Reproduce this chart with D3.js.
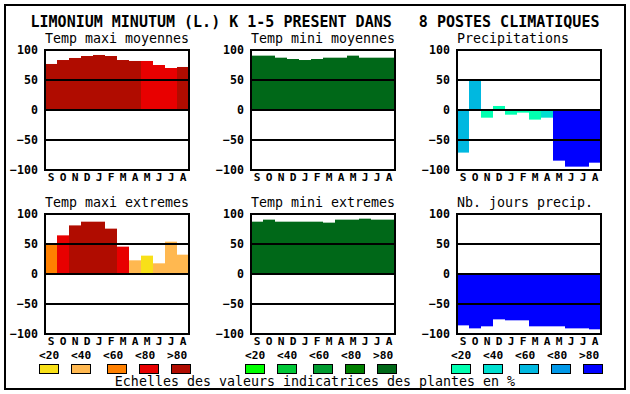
<!DOCTYPE html>
<html>
<head>
<meta charset="utf-8">
<script src="https://cdn.jsdelivr.net/npm/d3@7"></script>
<style>
  body { margin: 0; background: #fff; }
  svg { display: block; font-family: "DejaVu Sans Mono", monospace; }
  text { white-space: pre; }
</style>
</head>
<body>
<svg id="chart" width="630" height="394"></svg>
<script>
// Data
const months = ['S', 'O', 'N', 'D', 'J', 'F', 'M', 'A', 'M', 'J', 'J', 'A'];
const yTicks = [100, 50, 0, -50, -100];
const classLabels = ['<20', '<40', '<60', '<80', '>80'];

const redScale = ['#f8e018', '#ffb850', '#ff8000', '#e80000', '#b00c00'];
const greenScale = ['#00ff00', '#00c838', '#009c30', '#008000', '#006818'];
const blueScale = ['#00ffb0', '#00e0d0', '#00b8e0', '#0098e8', '#0000ff'];

const titles = ['Temp maxi moyennes', 'Temp mini moyennes', 'Precipitations',
                'Temp maxi extremes', 'Temp mini extremes', 'Nb. jours precip.'];

const tmaxMoy = [76.7, 83.3, 86.7, 90, 91.7, 90, 83.3, 81.7, 81.7, 75, 70, 71.7];
const tmaxMoyClass = [4, 4, 4, 4, 4, 4, 4, 4, 3, 3, 3, 4];

const tminMoy = [90.6, 90.6, 87.2, 85, 83.3, 85, 87.2, 87.2, 90.6, 87.2, 87.2, 87.2];
const tminMoyClass = [4, 4, 4, 4, 4, 4, 4, 4, 4, 4, 4, 4];

const precip = [-71, 48.9, -12.8, 6.7, -7.8, -4.4, -16, -12.8, -84.4, -94.4, -94.4, -87.8];
const precipClass = [2, 2, 0, 0, 0, 0, 0, 1, 4, 4, 4, 4];

const tmaxExt = [50, 64.4, 81, 87.2, 87.2, 75.6, 45.6, 22.8, 30.6, 17.8, 53.9, 32.2];
const tmaxExtClass = [2, 3, 4, 4, 4, 4, 3, 1, 0, 1, 1, 1];

const tminExt = [87.2, 90.6, 87.2, 87.2, 87.2, 87.2, 85.6, 90.6, 90.6, 92.2, 90.6, 90.6];
const tminExtClass = [4, 4, 4, 4, 4, 4, 4, 4, 4, 4, 4, 4];

const nbJours = [-85.6, -90.6, -87.2, -75.6, -77.2, -77.2, -87.2, -87.2, -87.2, -90.6, -90.6, -92.2];
const nbJoursClass = [4, 4, 4, 4, 4, 4, 4, 4, 4, 4, 4, 4];

(function() {
  const svg = d3.select('#chart');
  const colX = [45, 251, 457];
  const rowY = [50, 214];
  const plotW = 144, plotH = 120;
  const tickFont = 11.2;

  // outer frame
  svg.append('rect').attr('x', 5).attr('y', 5).attr('width', 620).attr('height', 384)
    .attr('fill', 'none').attr('stroke', '#000').attr('stroke-width', 2);

  svg.append('text').attr('x', 315).attr('y', 27).attr('text-anchor', 'middle')
    .attr('font-size', 15).attr('font-weight', 'bold')
    .text('LIMONIUM MINUTUM (L.) K 1-5 PRESENT DANS   8 POSTES CLIMATIQUES');

  const panels = [
    { values: tmaxMoy, classes: tmaxMoyClass, scale: redScale },
    { values: tminMoy, classes: tminMoyClass, scale: greenScale },
    { values: precip, classes: precipClass, scale: blueScale },
    { values: tmaxExt, classes: tmaxExtClass, scale: redScale },
    { values: tminExt, classes: tminExtClass, scale: greenScale },
    { values: nbJours, classes: nbJoursClass, scale: blueScale }
  ];

  panels.forEach(function(p, i) {
    const px = colX[i % 3], py = rowY[Math.floor(i / 3)];
    const g = svg.append('g').attr('transform', `translate(${px},${py})`);
    const x = d3.scaleBand().domain(d3.range(12)).range([0, plotW]).padding(0);
    const y = d3.scaleLinear().domain([-100, 100]).range([plotH, 0]);

    g.append('text').attr('x', 0).attr('y', -7).attr('font-size', 13.3).text(titles[i]);

    g.selectAll('rect.bar').data(p.values).enter().append('rect')
      .attr('class', 'bar')
      .attr('x', (d, j) => x(j))
      .attr('width', x.bandwidth())
      .attr('y', d => y(Math.max(0, d)))
      .attr('height', d => Math.abs(y(d) - y(0)))
      .attr('fill', (d, j) => p.scale[p.classes[j]]);

    g.selectAll('line.grid').data([50, 0, -50]).enter().append('line')
      .attr('x1', 0).attr('x2', plotW)
      .attr('y1', d => y(d)).attr('y2', d => y(d))
      .attr('stroke', '#000').attr('stroke-width', 2);

    g.append('rect').attr('width', plotW).attr('height', plotH)
      .attr('fill', 'none').attr('stroke', '#000').attr('stroke-width', 2);

    const yAxis = g.append('g').call(d3.axisLeft(y).tickValues(yTicks).tickSize(0).tickPadding(7));
    yAxis.select('.domain').remove();
    yAxis.selectAll('text').attr('font-family', '"DejaVu Sans Mono", monospace')
      .attr('font-size', 11.6).attr('font-weight', 'bold').attr('fill', '#000');

    const xAxis = g.append('g').attr('transform', `translate(0,${plotH})`)
      .call(d3.axisBottom(x).tickSize(0).tickFormat(j => months[j]));
    xAxis.select('.domain').remove();
    xAxis.selectAll('text').attr('font-family', '"DejaVu Sans Mono", monospace')
      .attr('y', 11).attr('dy', null)
      .attr('font-size', tickFont).attr('font-weight', 'bold').attr('fill', '#000');
  });

  // legend scales
  const legendScales = [redScale, greenScale, blueScale];
  const labelOffsets = [-6, 26, 58, 90, 122];
  const boxOffsets = [-6, 26, 62, 94, 126];
  legendScales.forEach(function(scale, i) {
    const lg = svg.append('g').attr('transform', `translate(${colX[i]},0)`);
    lg.selectAll('text').data(classLabels).enter().append('text')
      .attr('x', (d, j) => labelOffsets[j]).attr('y', 359)
      .attr('font-size', tickFont).attr('font-weight', 'bold').text(d => d);
    lg.selectAll('rect').data(scale).enter().append('rect')
      .attr('x', (d, j) => boxOffsets[j] + 0.5).attr('y', 364.5)
      .attr('width', 19).attr('height', 9)
      .attr('fill', d => d).attr('stroke', '#000').attr('stroke-width', 1);
  });

  svg.append('text').attr('x', 315).attr('y', 386).attr('text-anchor', 'middle')
    .attr('font-size', 13.3).text('Echelles des valeurs indicatrices des plantes en %');
})();
</script>
</body>
</html>
